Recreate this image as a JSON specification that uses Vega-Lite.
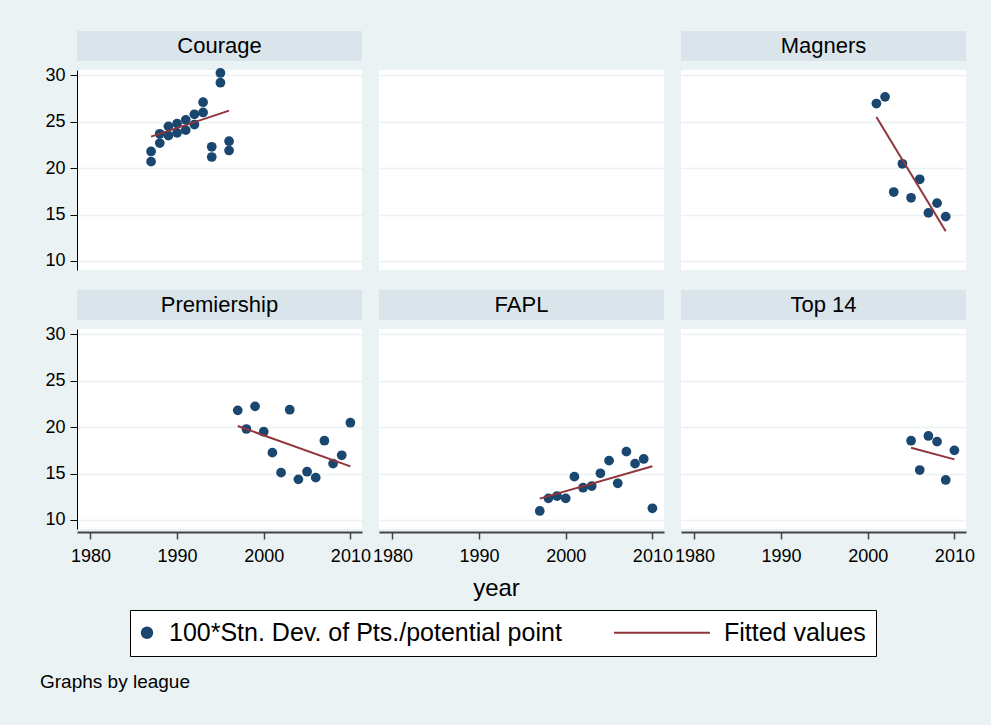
{
  "$schema": "https://vega.github.io/schema/vega-lite/v6.json",
  "background": "#EAF2F3",
  "padding": {"left": 39, "top": 31, "right": 16, "bottom": 37},
  "title": {"text": "Graphs by league", "orient": "bottom", "anchor": "start", "fontSize": 19, "fontWeight": "normal", "font": "Liberation Sans", "color": "black", "offset": 16, "dx": -5},
  "datasets": {
    "strips": [
      {"league": "Courage"}, {"league": "Magners"}, {"league": "Premiership"}, {"league": "FAPL"}, {"league": "Top 14"}
    ],
    "points": [
      {"league": "Courage", "year": 1987, "sd": 20.7}, {"league": "Courage", "year": 1987, "sd": 21.8},
      {"league": "Courage", "year": 1988, "sd": 22.7}, {"league": "Courage", "year": 1988, "sd": 23.7},
      {"league": "Courage", "year": 1989, "sd": 23.5}, {"league": "Courage", "year": 1989, "sd": 24.5},
      {"league": "Courage", "year": 1990, "sd": 23.8}, {"league": "Courage", "year": 1990, "sd": 24.8},
      {"league": "Courage", "year": 1991, "sd": 24.1}, {"league": "Courage", "year": 1991, "sd": 25.2},
      {"league": "Courage", "year": 1992, "sd": 24.7}, {"league": "Courage", "year": 1992, "sd": 25.8},
      {"league": "Courage", "year": 1993, "sd": 26.0}, {"league": "Courage", "year": 1993, "sd": 27.1},
      {"league": "Courage", "year": 1994, "sd": 21.2}, {"league": "Courage", "year": 1994, "sd": 22.3},
      {"league": "Courage", "year": 1995, "sd": 29.2}, {"league": "Courage", "year": 1995, "sd": 30.25},
      {"league": "Courage", "year": 1996, "sd": 21.9}, {"league": "Courage", "year": 1996, "sd": 22.9},
      {"league": "Magners", "year": 2001, "sd": 26.96}, {"league": "Magners", "year": 2002, "sd": 27.68},
      {"league": "Magners", "year": 2003, "sd": 17.43}, {"league": "Magners", "year": 2004, "sd": 20.47},
      {"league": "Magners", "year": 2005, "sd": 16.81}, {"league": "Magners", "year": 2006, "sd": 18.8},
      {"league": "Magners", "year": 2007, "sd": 15.18}, {"league": "Magners", "year": 2008, "sd": 16.23},
      {"league": "Magners", "year": 2009, "sd": 14.78},
      {"league": "Premiership", "year": 1997, "sd": 21.81}, {"league": "Premiership", "year": 1998, "sd": 19.8},
      {"league": "Premiership", "year": 1999, "sd": 22.24}, {"league": "Premiership", "year": 2000, "sd": 19.51},
      {"league": "Premiership", "year": 2001, "sd": 17.25}, {"league": "Premiership", "year": 2002, "sd": 15.1},
      {"league": "Premiership", "year": 2003, "sd": 21.88}, {"league": "Premiership", "year": 2004, "sd": 14.38},
      {"league": "Premiership", "year": 2005, "sd": 15.2}, {"league": "Premiership", "year": 2006, "sd": 14.56},
      {"league": "Premiership", "year": 2007, "sd": 18.54}, {"league": "Premiership", "year": 2008, "sd": 16.07},
      {"league": "Premiership", "year": 2009, "sd": 16.97}, {"league": "Premiership", "year": 2010, "sd": 20.48},
      {"league": "FAPL", "year": 1997, "sd": 10.97}, {"league": "FAPL", "year": 1998, "sd": 12.33},
      {"league": "FAPL", "year": 1999, "sd": 12.58}, {"league": "FAPL", "year": 2000, "sd": 12.33},
      {"league": "FAPL", "year": 2001, "sd": 14.67}, {"league": "FAPL", "year": 2002, "sd": 13.48},
      {"league": "FAPL", "year": 2003, "sd": 13.66}, {"league": "FAPL", "year": 2004, "sd": 15.03},
      {"league": "FAPL", "year": 2005, "sd": 16.39}, {"league": "FAPL", "year": 2006, "sd": 13.95},
      {"league": "FAPL", "year": 2007, "sd": 17.36}, {"league": "FAPL", "year": 2008, "sd": 16.07},
      {"league": "FAPL", "year": 2009, "sd": 16.57}, {"league": "FAPL", "year": 2010, "sd": 11.26},
      {"league": "Top 14", "year": 2005, "sd": 18.54}, {"league": "Top 14", "year": 2006, "sd": 15.38},
      {"league": "Top 14", "year": 2007, "sd": 19.05}, {"league": "Top 14", "year": 2008, "sd": 18.44},
      {"league": "Top 14", "year": 2009, "sd": 14.31}, {"league": "Top 14", "year": 2010, "sd": 17.5}
    ],
    "fitted": [
      {"league": "Courage", "year": 1987, "fit": 23.4}, {"league": "Courage", "year": 1996, "fit": 26.2},
      {"league": "Magners", "year": 2001, "fit": 25.5}, {"league": "Magners", "year": 2009, "fit": 13.2},
      {"league": "Premiership", "year": 1997, "fit": 20.12}, {"league": "Premiership", "year": 2010, "fit": 15.78},
      {"league": "FAPL", "year": 1997, "fit": 12.3}, {"league": "FAPL", "year": 2010, "fit": 15.78},
      {"league": "Top 14", "year": 2005, "fit": 17.79}, {"league": "Top 14", "year": 2010, "fit": 16.53}
    ]
  },
  "columns": 3,
  "bounds": "flush",
  "align": "each",
  "spacing": {"row": 9, "column": 17},
  "concat": [
    {"width": 285, "height": 30, "view": {"fill": "#D9E5EB", "stroke": null}, "data": {"name": "strips"}, "transform": [{"filter": "datum.league === 'Courage'"}], "mark": {"type": "text", "fontSize": 22, "baseline": "middle", "align": "center", "color": "black"}, "encoding": {"text": {"field": "league"}}},
    {"width": 285, "height": 30, "view": {"fill": null, "stroke": null}, "data": {"name": "strips"}, "transform": [{"filter": "datum.league === 'none'"}], "mark": {"type": "text", "fontSize": 22}, "encoding": {"text": {"field": "league"}}},
    {"width": 285, "height": 30, "view": {"fill": "#D9E5EB", "stroke": null}, "data": {"name": "strips"}, "transform": [{"filter": "datum.league === 'Magners'"}], "mark": {"type": "text", "fontSize": 22, "baseline": "middle", "align": "center", "color": "black"}, "encoding": {"text": {"field": "league"}}},
    {
      "width": 285, "height": 200, "view": {"fill": "white", "stroke": null},
      "layer": [
        {"data": {"name": "points"}, "transform": [{"filter": "datum.league === 'Courage'"}],
         "mark": {"type": "point", "filled": true, "opacity": 1, "size": 95},
         "encoding": {
           "x": {"field": "year", "type": "quantitative", "scale": {"domain": [1978.45, 2011.34], "nice": false, "zero": false}, "axis": null},
           "y": {"field": "sd", "type": "quantitative", "scale": {"domain": [9.03, 30.57], "nice": false, "zero": false}, "axis": {"values": [10, 15, 20, 25, 30], "title": null, "grid": true}},
           "color": {"datum": "100*Stn. Dev. of Pts./potential point", "type": "nominal", "scale": {"domain": ["100*Stn. Dev. of Pts./potential point", "Fitted values"], "range": ["#1A476F", "#90353B"]}, "legend": {"title": null, "encode": {"symbols": {"update": {"stroke": {"scale": "color", "field": "value"}, "x": {"signal": "datum.value === 'Fitted values' ? 48 : 7"}}}, "labels": {"update": {"x": {"signal": "datum.value === 'Fitted values' ? 110 : 29"}}}}}},
           "shape": {"datum": "100*Stn. Dev. of Pts./potential point", "type": "nominal", "scale": {"domain": ["100*Stn. Dev. of Pts./potential point", "Fitted values"], "range": ["circle", "M-9.15,0L9.15,0"]}, "legend": {"title": null}}
         }},
        {"data": {"name": "fitted"}, "transform": [{"filter": "datum.league === 'Courage'"}],
         "mark": {"type": "line", "strokeWidth": 2},
         "encoding": {
           "x": {"field": "year", "type": "quantitative"},
           "y": {"field": "fit", "type": "quantitative"},
           "color": {"datum": "Fitted values", "type": "nominal", "legend": {"title": null}}
         }}
      ]
    },
    {
      "width": 285, "height": 200, "view": {"fill": "white", "stroke": null},
      "data": {"name": "points"}, "transform": [{"filter": "datum.league === 'none'"}],
      "mark": {"type": "point", "filled": true},
      "encoding": {
        "x": {"field": "year", "type": "quantitative", "scale": {"domain": [1978.45, 2011.34], "nice": false, "zero": false}, "axis": null},
        "y": {"field": "sd", "type": "quantitative", "scale": {"domain": [9.03, 30.57], "nice": false, "zero": false}, "axis": {"values": [10, 15, 20, 25, 30], "title": null, "grid": true, "domain": false, "ticks": false, "labels": false}}
      }
    },
    {
      "width": 285, "height": 200, "view": {"fill": "white", "stroke": null},
      "layer": [
        {"data": {"name": "points"}, "transform": [{"filter": "datum.league === 'Magners'"}],
         "mark": {"type": "point", "filled": true, "opacity": 1, "size": 95},
         "encoding": {
           "x": {"field": "year", "type": "quantitative", "scale": {"domain": [1978.45, 2011.34], "nice": false, "zero": false}, "axis": null},
           "y": {"field": "sd", "type": "quantitative", "scale": {"domain": [9.03, 30.57], "nice": false, "zero": false}, "axis": {"values": [10, 15, 20, 25, 30], "title": null, "grid": true, "domain": false, "ticks": false, "labels": false}},
           "color": {"datum": "100*Stn. Dev. of Pts./potential point", "type": "nominal", "legend": {"title": null}},
           "shape": {"datum": "100*Stn. Dev. of Pts./potential point", "type": "nominal", "legend": {"title": null}}
         }},
        {"data": {"name": "fitted"}, "transform": [{"filter": "datum.league === 'Magners'"}],
         "mark": {"type": "line", "strokeWidth": 2},
         "encoding": {
           "x": {"field": "year", "type": "quantitative"},
           "y": {"field": "fit", "type": "quantitative"},
           "color": {"datum": "Fitted values", "type": "nominal", "legend": {"title": null}}
         }}
      ]
    },
    {"width": 285, "height": 2, "view": {"fill": null, "stroke": null}, "data": {"name": "strips"}, "transform": [{"filter": "datum.league === 'none'"}], "mark": {"type": "text"}, "encoding": {"text": {"field": "league"}}},
    {"width": 285, "height": 2, "view": {"fill": null, "stroke": null}, "data": {"name": "strips"}, "transform": [{"filter": "datum.league === 'none'"}], "mark": {"type": "text"}, "encoding": {"text": {"field": "league"}}},
    {"width": 285, "height": 2, "view": {"fill": null, "stroke": null}, "data": {"name": "strips"}, "transform": [{"filter": "datum.league === 'none'"}], "mark": {"type": "text"}, "encoding": {"text": {"field": "league"}}},
    {"width": 285, "height": 30, "view": {"fill": "#D9E5EB", "stroke": null}, "data": {"name": "strips"}, "transform": [{"filter": "datum.league === 'Premiership'"}], "mark": {"type": "text", "fontSize": 22, "baseline": "middle", "align": "center", "color": "black"}, "encoding": {"text": {"field": "league"}}},
    {"width": 285, "height": 30, "view": {"fill": "#D9E5EB", "stroke": null}, "data": {"name": "strips"}, "transform": [{"filter": "datum.league === 'FAPL'"}], "mark": {"type": "text", "fontSize": 22, "baseline": "middle", "align": "center", "color": "black"}, "encoding": {"text": {"field": "league"}}},
    {"width": 285, "height": 30, "view": {"fill": "#D9E5EB", "stroke": null}, "data": {"name": "strips"}, "transform": [{"filter": "datum.league === 'Top 14'"}], "mark": {"type": "text", "fontSize": 22, "baseline": "middle", "align": "center", "color": "black"}, "encoding": {"text": {"field": "league"}}},
    {
      "width": 285, "height": 200, "view": {"fill": "white", "stroke": null},
      "layer": [
        {"data": {"name": "points"}, "transform": [{"filter": "datum.league === 'Premiership'"}],
         "mark": {"type": "point", "filled": true, "opacity": 1, "size": 95},
         "encoding": {
           "x": {"field": "year", "type": "quantitative", "scale": {"domain": [1978.45, 2011.34], "nice": false, "zero": false}, "axis": {"values": [1980, 1990, 2000, 2010], "title": null, "grid": false, "format": "d"}},
           "y": {"field": "sd", "type": "quantitative", "scale": {"domain": [9.03, 30.57], "nice": false, "zero": false}, "axis": {"values": [10, 15, 20, 25, 30], "title": null, "grid": true}},
           "color": {"datum": "100*Stn. Dev. of Pts./potential point", "type": "nominal", "legend": {"title": null}},
           "shape": {"datum": "100*Stn. Dev. of Pts./potential point", "type": "nominal", "legend": {"title": null}}
         }},
        {"data": {"name": "fitted"}, "transform": [{"filter": "datum.league === 'Premiership'"}],
         "mark": {"type": "line", "strokeWidth": 2},
         "encoding": {
           "x": {"field": "year", "type": "quantitative"},
           "y": {"field": "fit", "type": "quantitative"},
           "color": {"datum": "Fitted values", "type": "nominal", "legend": {"title": null}}
         }}
      ]
    },
    {
      "width": 285, "height": 200, "view": {"fill": "white", "stroke": null},
      "layer": [
        {"data": {"name": "points"}, "transform": [{"filter": "datum.league === 'FAPL'"}],
         "mark": {"type": "point", "filled": true, "opacity": 1, "size": 95},
         "encoding": {
           "x": {"field": "year", "type": "quantitative", "scale": {"domain": [1978.45, 2011.34], "nice": false, "zero": false}, "axis": {"values": [1980, 1990, 2000, 2010], "title": "year", "titleX": 117, "grid": false, "format": "d"}},
           "y": {"field": "sd", "type": "quantitative", "scale": {"domain": [9.03, 30.57], "nice": false, "zero": false}, "axis": {"values": [10, 15, 20, 25, 30], "title": null, "grid": true, "domain": false, "ticks": false, "labels": false}},
           "color": {"datum": "100*Stn. Dev. of Pts./potential point", "type": "nominal", "legend": {"title": null}},
           "shape": {"datum": "100*Stn. Dev. of Pts./potential point", "type": "nominal", "legend": {"title": null}}
         }},
        {"data": {"name": "fitted"}, "transform": [{"filter": "datum.league === 'FAPL'"}],
         "mark": {"type": "line", "strokeWidth": 2},
         "encoding": {
           "x": {"field": "year", "type": "quantitative"},
           "y": {"field": "fit", "type": "quantitative"},
           "color": {"datum": "Fitted values", "type": "nominal", "legend": {"title": null}}
         }}
      ]
    },
    {
      "width": 285, "height": 200, "view": {"fill": "white", "stroke": null},
      "layer": [
        {"data": {"name": "points"}, "transform": [{"filter": "datum.league === 'Top 14'"}],
         "mark": {"type": "point", "filled": true, "opacity": 1, "size": 95},
         "encoding": {
           "x": {"field": "year", "type": "quantitative", "scale": {"domain": [1978.45, 2011.34], "nice": false, "zero": false}, "axis": {"values": [1980, 1990, 2000, 2010], "title": null, "grid": false, "format": "d"}},
           "y": {"field": "sd", "type": "quantitative", "scale": {"domain": [9.03, 30.57], "nice": false, "zero": false}, "axis": {"values": [10, 15, 20, 25, 30], "title": null, "grid": true, "domain": false, "ticks": false, "labels": false}},
           "color": {"datum": "100*Stn. Dev. of Pts./potential point", "type": "nominal", "legend": {"title": null}},
           "shape": {"datum": "100*Stn. Dev. of Pts./potential point", "type": "nominal", "legend": {"title": null}}
         }},
        {"data": {"name": "fitted"}, "transform": [{"filter": "datum.league === 'Top 14'"}],
         "mark": {"type": "line", "strokeWidth": 2},
         "encoding": {
           "x": {"field": "year", "type": "quantitative"},
           "y": {"field": "fit", "type": "quantitative"},
           "color": {"datum": "Fitted values", "type": "nominal", "legend": {"title": null}}
         }}
      ]
    }
  ],
  "config": {
    "font": "Liberation Sans",
    "view": {"stroke": null},
    "text": {"font": "Liberation Sans"},
    "axis": {
      "labelFont": "Liberation Sans", "labelFontSize": 18, "labelColor": "black",
      "titleFont": "Liberation Sans", "titleFontSize": 24, "titleFontWeight": "normal", "titleColor": "black",
      "gridColor": "#EAF2F3", "gridWidth": 1.5, "gridOpacity": 1,
      "tickSize": 7, "labelFlush": false, "labelOverlap": false
    },
    "axisY": {"domainColor": "black", "domainWidth": 1, "tickColor": "black", "tickWidth": 1, "labelPadding": 5},
    "axisX": {"domainColor": "#444444", "domainWidth": 2, "tickColor": "#444444", "tickWidth": 1.5, "labelPadding": 8, "offset": 3, "titlePadding": 11},
    "legend": {
      "orient": "none", "legendX": 53, "legendY": 579, "direction": "horizontal",
      "labelFont": "Liberation Sans", "labelFontSize": 25, "labelColor": "black", "labelLimit": 600,
      "strokeColor": "black", "fillColor": "white", "padding": 10,
      "symbolSize": 110, "symbolStrokeWidth": 2, "columnPadding": 48, "labelOffset": 5,
      "symbolOpacity": 1
    }
  }
}
